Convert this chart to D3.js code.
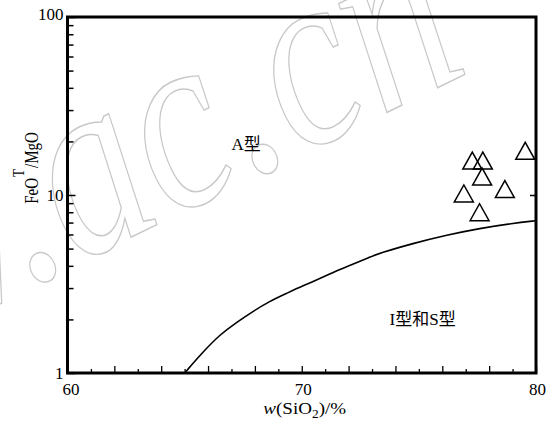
<!DOCTYPE html>
<html>
<head>
<meta charset="utf-8">
<script src="https://cdn.jsdelivr.net/npm/d3@7"></script>
<style>
  html, body { margin: 0; padding: 0; background: #fff; }
  svg { display: block; }
  text { font-family: "Liberation Serif", "Times New Roman", serif; fill: #000; }
  .cjk { font-family: "Liberation Serif", "Noto Sans CJK SC", serif; }
</style>
</head>
<body>
<script>
// Axis extents and tick labels
const xDomain = [60, 80];
const yDomain = [1, 100];
const xTickLabels = [60, 70, 80];
const yTickLabels = [1, 10, 100];

// Boundary between the A-type field and the I/S-type field
const boundaryX = [65.0, 65.8, 66.5, 67.2, 67.9, 68.6, 69.35, 70.05, 70.8, 71.5, 72.2, 72.9, 73.3, 74.75, 76.2, 77.6, 79.0, 80.0];
const boundaryY = [1.0, 1.32, 1.64, 1.92, 2.21, 2.52, 2.80, 3.09, 3.40, 3.76, 4.10, 4.47, 4.70, 5.35, 5.96, 6.50, 6.93, 7.17];

// Samples: SiO2 (%) and FeOT/MgO
const sampleSiO2 = [77.28, 77.73, 77.70, 76.92, 78.67, 77.59, 79.54];
const sampleRatio = [15.6, 15.6, 12.7, 10.2, 10.8, 8.0, 17.7];

const W = 559, H = 422;
const margin = { left: 67.5, right: 23, top: 17, bottom: 49 };
const innerW = W - margin.left - margin.right;
const innerH = H - margin.top - margin.bottom;

const svg = d3.select("body").append("svg").attr("width", W).attr("height", H);

// Faint site watermark
svg.append("text")
  .attr("transform", "translate(72,266) rotate(-26) scale(1,1.25)")
  .attr("text-anchor", "middle")
  .style("font-family", "'Liberation Serif', serif")
  .style("font-style", "italic")
  .style("font-size", "207px")
  .style("fill", "none")
  .style("stroke", "#c8c8c8")
  .style("stroke-width", 1.2)
  .text("www.ac.cn");

const g = svg.append("g").attr("transform", `translate(${margin.left},${margin.top})`);

const x = d3.scaleLinear().domain(xDomain).range([0, innerW]);
const y = d3.scaleLog().domain(yDomain).range([innerH, 0]);

// Bottom axis: a tick every unit, longer on even values
const xTicks = d3.range(xDomain[0], xDomain[1] + 1, 1);
const xAxis = d3.axisBottom(x)
  .tickValues(xTicks)
  .tickSize(-7)
  .tickPadding(10)
  .tickFormat(d => xTickLabels.includes(d) ? d : "");
const gx = g.append("g").attr("transform", `translate(0,${innerH})`).call(xAxis);
gx.select(".domain").remove();
gx.selectAll(".tick line")
  .attr("y2", d => d % 2 === 0 ? -7 : -4)
  .attr("stroke", "#000").attr("stroke-width", 1.3);
gx.selectAll(".tick text")
  .style("font-size", "17px")
  .attr("dx", d => d === 60 ? 3 : 1);

// Left axis: log ticks 1..9 in each decade
const yTicks = [];
for (let dec = 1; dec < 100; dec *= 10) for (let k = 1; k < 10; k++) yTicks.push(k * dec);
yTicks.push(100);
const yAxis = d3.axisLeft(y)
  .tickValues(yTicks)
  .tickSize(-6)
  .tickPadding(4)
  .tickFormat(d => yTickLabels.includes(d) ? d : "");
const gy = g.append("g").call(yAxis);
gy.select(".domain").remove();
gy.selectAll(".tick line")
  .attr("x2", d => yTickLabels.includes(d) ? 8 : 6)
  .attr("stroke", "#000").attr("stroke-width", 1.5);
gy.selectAll(".tick text")
  .style("font-size", "17px")
  .attr("dy", d => d === 100 ? "0.15em" : "0.32em");

// Right axis: decade tick only
const gr = g.append("g").attr("transform", `translate(${innerW},0)`)
  .call(d3.axisRight(y).tickValues([10]).tickSize(-6).tickFormat(""));
gr.select(".domain").remove();
gr.selectAll(".tick line").attr("stroke", "#000").attr("stroke-width", 1.5);

// Frame
g.append("rect")
  .attr("x", 0).attr("y", 0).attr("width", innerW).attr("height", innerH)
  .attr("fill", "none").attr("stroke", "#000").attr("stroke-width", 3);

// Boundary curve
const boundary = boundaryX.map((v, i) => [v, boundaryY[i]]);
g.append("path")
  .datum(boundary)
  .attr("fill", "none")
  .attr("stroke", "#000")
  .attr("stroke-width", 1.6)
  .attr("d", d3.line().x(d => x(d[0])).y(d => y(d[1])).curve(d3.curveBasis));

// Sample triangles
const tw = 9.5, th = 8.5;
g.selectAll(".sample")
  .data(sampleSiO2.map((v, i) => [v, sampleRatio[i]]))
  .join("path")
  .attr("class", "sample")
  .attr("fill", "none")
  .attr("stroke", "#000")
  .attr("stroke-width", 1.5)
  .attr("stroke-linejoin", "miter")
  .attr("d", d => {
    const cx = x(d[0]), cy = y(d[1]);
    return `M${cx - tw},${cy + th}L${cx},${cy - th}L${cx + tw},${cy + th}Z`;
  });

// Field labels
g.append("text").attr("class", "cjk")
  .attr("x", x(67.0)).attr("y", y(17.9))
  .style("font-size", "17px")
  .text("A型");
g.append("text").attr("class", "cjk")
  .attr("x", x(73.75)).attr("y", y(1.86))
  .style("font-size", "17px")
  .text("I型和S型");

// Axis titles
const xt = svg.append("text")
  .attr("transform", `translate(${margin.left + innerW / 2 + 3},414) scale(1.12,1)`)
  .attr("text-anchor", "middle")
  .style("font-size", "17px");
xt.append("tspan").style("font-style", "italic").text("w");
xt.append("tspan").text("(SiO");
xt.append("tspan").attr("dy", 4).style("font-size", "12px").text("2");
xt.append("tspan").attr("dy", -4).text(")/%");

const yt = svg.append("text")
  .attr("transform", "translate(38,168) rotate(-90) scale(1,1.25)")
  .attr("text-anchor", "middle")
  .style("font-size", "15px");
yt.append("tspan").text("FeO");
yt.append("tspan").attr("dx", 1).attr("dy", -11).style("font-size", "13px").text("T");
yt.append("tspan").attr("dx", 1).attr("dy", 11).text("/MgO");
</script>
</body>
</html>
